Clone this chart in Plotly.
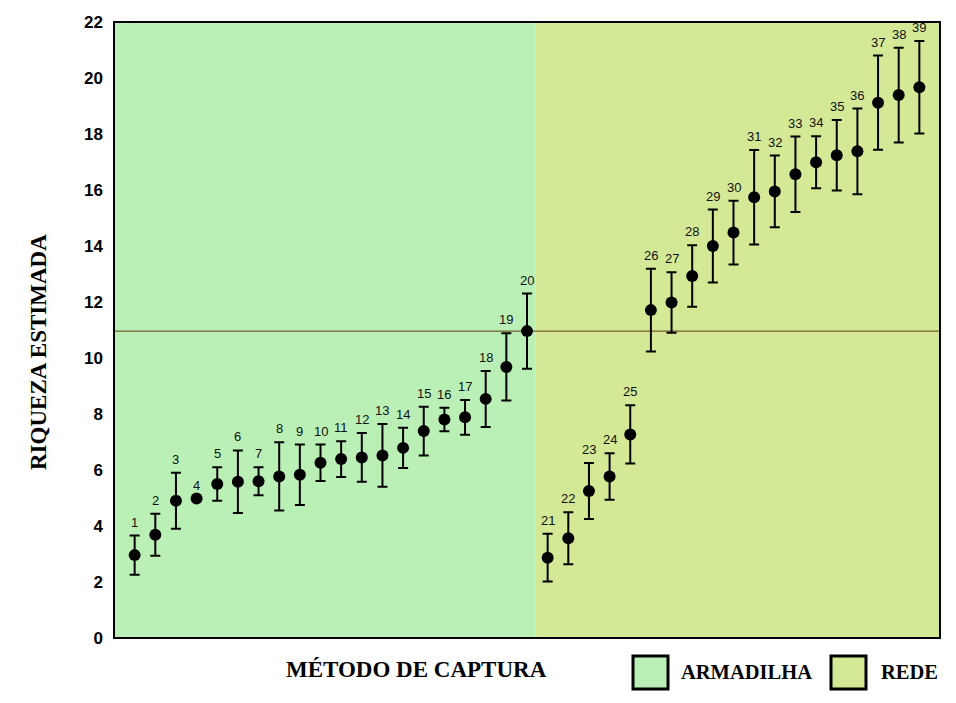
import plotly.graph_objects as go

samples = list(range(1, 40))
riqueza = [2.96, 3.69, 4.90, 4.98, 5.50, 5.58, 5.60, 5.77, 5.83, 6.26,
           6.39, 6.45, 6.52, 6.79, 7.39, 7.80, 7.88, 8.54, 9.68, 10.96,
           2.87, 3.56, 5.25, 5.77, 7.27, 11.71, 11.98, 12.93, 14.00, 14.48,
           15.74, 15.95, 16.56, 16.99, 17.24, 17.38, 19.12, 19.39, 19.67]
erro = [0.70, 0.75, 1.00, 0.0, 0.60, 1.12, 0.50, 1.22, 1.08, 0.65,
        0.64, 0.87, 1.12, 0.72, 0.87, 0.42, 0.62, 1.00, 1.20, 1.34,
        0.85, 0.93, 1.00, 0.83, 1.04, 1.48, 1.08, 1.10, 1.30, 1.14,
        1.69, 1.28, 1.35, 0.93, 1.26, 1.53, 1.68, 1.69, 1.65]
y_ticks = [0, 2, 4, 6, 8, 10, 12, 14, 16, 18, 20, 22]
linha_ref = 10.96
metodos = ["ARMADILHA", "REDE"]
cores = ["#BAF0B6", "#D4E996"]
limite = 20.42

fig = go.Figure()
fig.add_trace(go.Scatter(
    x=samples, y=riqueza, mode="markers",
    marker=dict(color="black", size=12),
    error_y=dict(type="data", array=erro, visible=True, color="black",
                 thickness=2, width=5),
    showlegend=False, hoverinfo="skip"))

shapes = [
    dict(type="rect", xref="x", yref="y", x0=0, x1=limite, y0=0, y1=22,
         fillcolor=cores[0], line=dict(width=0), layer="below"),
    dict(type="rect", xref="x", yref="y", x0=limite, x1=40, y0=0, y1=22,
         fillcolor=cores[1], line=dict(width=0), layer="below"),
    dict(type="line", xref="x", yref="y", x0=0, x1=40, y0=linha_ref, y1=linha_ref,
         line=dict(color="#5a3a10", width=1), layer="below"),
    dict(type="rect", xref="paper", yref="paper", x0=0, x1=1, y0=0, y1=1,
         line=dict(color="black", width=2)),
]

annotations = []
for s, v, e in zip(samples, riqueza, erro):
    annotations.append(dict(x=s, y=v + e, xref="x", yref="y", text=str(s),
                            showarrow=False, yanchor="bottom", yshift=4,
                            font=dict(family="Liberation Sans", size=13, color="#111")))

# legend boxes (paper coords)
W, H = 956, 703
L, R, T, B = 114, 16, 22, 65
pw, ph = W - L - R, H - T - B
def px(x):
    return (x - L) / pw
def py(y):
    return (H - B - y) / ph

leg = [(633, 668, metodos[0], cores[0], 679), (831, 866, metodos[1], cores[1], 879)]
for x0, x1, txt, col, tx in leg:
    shapes.append(dict(type="rect", xref="paper", yref="paper",
                       x0=px(x0), x1=px(x1), y0=py(689), y1=py(656),
                       fillcolor=col, line=dict(color="black", width=3)))
    annotations.append(dict(x=px(tx), y=py(672), xref="paper", yref="paper",
                            text="<b>" + txt + "</b>", showarrow=False,
                            xanchor="left", yanchor="middle",
                            font=dict(family="Liberation Serif", size=20.5, color="black")))

annotations.append(dict(x=px(416), y=py(669), xref="paper", yref="paper",
                        text="<b>MÉTODO DE CAPTURA</b>", showarrow=False,
                        xanchor="center", yanchor="middle",
                        font=dict(family="Liberation Serif", size=23, color="black")))
annotations.append(dict(x=px(38), y=py(352), xref="paper", yref="paper",
                        text="<b>RIQUEZA ESTIMADA</b>", showarrow=False, textangle=-90,
                        xanchor="center", yanchor="middle",
                        font=dict(family="Liberation Serif", size=23, color="black")))

fig.update_layout(
    width=W, height=H,
    margin=dict(l=L, r=R, t=T, b=B),
    paper_bgcolor="white", plot_bgcolor="white",
    xaxis=dict(range=[0, 40], showticklabels=False, showgrid=False, zeroline=False,
               ticks=""),
    yaxis=dict(range=[0, 22], tickvals=y_ticks, showgrid=False, zeroline=False,
               ticks="", ticklabelstandoff=10,
               tickfont=dict(family="Liberation Sans", size=17, color="black",
                             weight="bold")),
    shapes=shapes, annotations=annotations, showlegend=False,
)
fig.write_html("out.html")
